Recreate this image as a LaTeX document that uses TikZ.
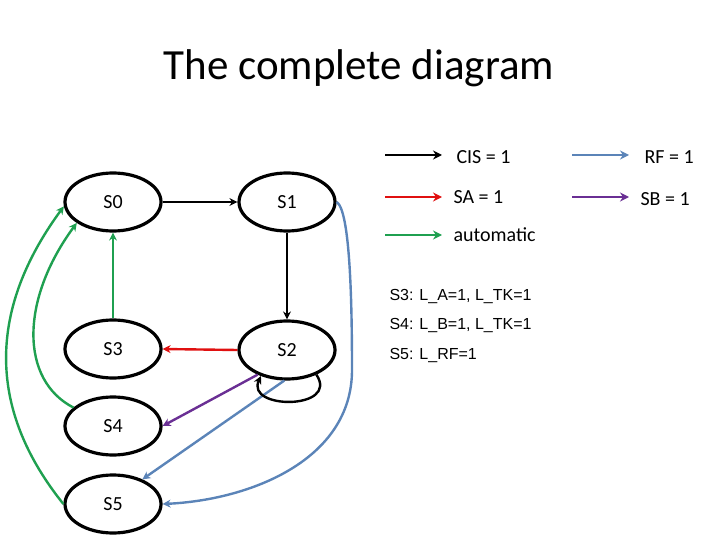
\documentclass[tikz,border=0pt]{standalone}
\usepackage{fontspec}
\setmainfont{Carlito}
\newfontfamily\arialf{Liberation Sans}
\usetikzlibrary{arrows.meta,shapes.geometric}
\definecolor{cgreen}{HTML}{1FA050}
\definecolor{cblue}{HTML}{5B84B8}
\definecolor{cred}{HTML}{E01010}
\definecolor{cpurple}{HTML}{6A2F94}
\begin{document}
\begin{tikzpicture}[x=1pt,y=-1pt,
 st/.style={draw,line width=3.2pt,ellipse,minimum width=96pt,minimum height=58pt,inner sep=0pt,font=\fontsize{20}{24}\selectfont},
 ar/.style={line width=2.4pt,-{Stealth[length=8pt,width=8pt]}},
 lg/.style={line width=2.6pt,-{Stealth[length=9pt,width=9pt]}},
 lt/.style={anchor=west,font=\fontsize{20}{24}\selectfont}]
\useasboundingbox (0,0) rectangle (720,540);
\node[font=\fontsize{43}{50}\selectfont] (title) at (359,68) {The complete diagram};
\node[st] (s0) at (113,202) {S0};
\node[st] (s1) at (287,202) {S1};
\node[st] (s3) at (113,349) {S3};
\node[st] (s2) at (287,350) {S2};
\node[st] (s4) at (113,426) {S4};
\node[st] (s5) at (113,504) {S5};
\draw[ar,black] (s0) -- (s1);
\draw[ar,black] (s1) -- (s2);
\draw[ar,cred] (s2.west) -- (s3.east);
\draw[ar,cgreen] (s3) -- (s0);
\draw[ar,cpurple] (s2.-140) -- (s4.east);
\draw[ar,cblue] (s2.-95) -- (s5.40);
\draw[ar,cblue] (s1.east) .. controls (350,210) and (352,300) .. (352,370) .. controls (352,460) and (250,500) .. (s5.east);
\draw[ar,cgreen] (s4.155) .. controls (20,380) and (20,300) .. (s0.-150);
\draw[ar,cgreen] (s5.west) .. controls (-20,400) and (-5,300) .. (s0.-175);
\draw[ar,black] (s2.-40) .. controls (340,410) and (245,410) .. (s2.-135);
% legend
\coordinate (a1) at (385,155); \coordinate (b1) at (442,155);
\coordinate (a2) at (385,197); \coordinate (b2) at (442,197);
\coordinate (a3) at (385,235); \coordinate (b3) at (442,235);
\coordinate (a4) at (572,155); \coordinate (b4) at (629,155);
\coordinate (a5) at (572,197); \coordinate (b5) at (629,197);
\draw[lg,black] (a1) -- (b1);
\draw[lg,cred] (a2) -- (b2);
\draw[lg,cgreen] (a3) -- (b3);
\draw[lg,cblue] (a4) -- (b4);
\draw[lg,cpurple] (a5) -- (b5);
\node[lt] (l1) at (453,157) {CIS = 1};
\node[lt] (l2) at (450,197) {SA = 1};
\node[lt] (l3) at (450,235) {automatic};
\node[lt] (l4) at (641,157) {RF = 1};
\node[lt] (l5) at (637,199) {SB = 1};
\node[lt,font=\arialf\fontsize{16}{19}\selectfont] (t1) at (386,297) {S3: L\_A=1, L\_TK=1};
\node[lt,font=\arialf\fontsize{16}{19}\selectfont] (t2) at (386,326) {S4: L\_B=1, L\_TK=1};
\node[lt,font=\arialf\fontsize{16}{19}\selectfont] (t3) at (386,356) {S5: L\_RF=1};
\end{tikzpicture}
\end{document}
